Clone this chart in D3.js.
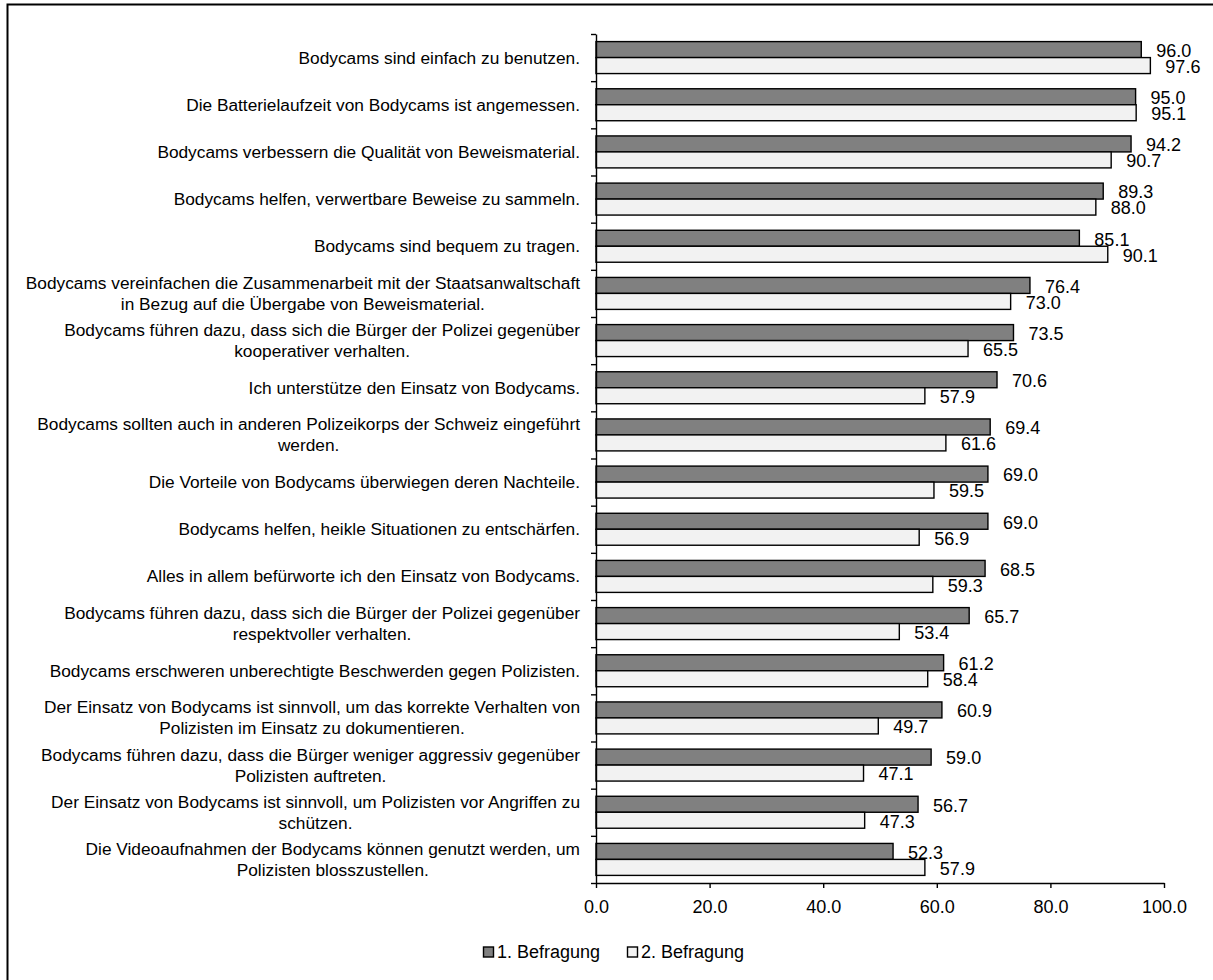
<!DOCTYPE html>
<html>
<head>
<meta charset="utf-8">
<script src="https://cdn.jsdelivr.net/npm/d3@7"></script>
<style>
  html, body { margin: 0; padding: 0; background: #fff; }
  svg { display: block; font-family: "Liberation Sans", Arial, sans-serif; }
</style>
</head>
<body>
<svg id="chart" width="1213" height="980"></svg>
<script>
const categories = [
  ["Bodycams sind einfach zu benutzen."],
  ["Die Batterielaufzeit von Bodycams ist angemessen."],
  ["Bodycams verbessern die Qualität von Beweismaterial."],
  ["Bodycams helfen, verwertbare Beweise zu sammeln."],
  ["Bodycams sind bequem zu tragen."],
  ["Bodycams vereinfachen die Zusammenarbeit mit der Staatsanwaltschaft", "in Bezug auf die Übergabe von Beweismaterial."],
  ["Bodycams führen dazu, dass sich die Bürger der Polizei gegenüber", "kooperativer verhalten."],
  ["Ich unterstütze den Einsatz von Bodycams."],
  ["Bodycams sollten auch in anderen Polizeikorps der Schweiz eingeführt", "werden."],
  ["Die Vorteile von Bodycams überwiegen deren Nachteile."],
  ["Bodycams helfen, heikle Situationen zu entschärfen."],
  ["Alles in allem befürworte ich den Einsatz von Bodycams."],
  ["Bodycams führen dazu, dass sich die Bürger der Polizei gegenüber", "respektvoller verhalten."],
  ["Bodycams erschweren unberechtigte Beschwerden gegen Polizisten."],
  ["Der Einsatz von Bodycams ist sinnvoll, um das korrekte Verhalten von", "Polizisten im Einsatz zu dokumentieren."],
  ["Bodycams führen dazu, dass die Bürger weniger aggressiv gegenüber", "Polizisten auftreten."],
  ["Der Einsatz von Bodycams ist sinnvoll, um Polizisten vor Angriffen zu", "schützen."],
  ["Die Videoaufnahmen der Bodycams können genutzt werden, um", "Polizisten blosszustellen."]
];
const series1 = [96.0, 95.0, 94.2, 89.3, 85.1, 76.4, 73.5, 70.6, 69.4, 69.0, 69.0, 68.5, 65.7, 61.2, 60.9, 59.0, 56.7, 52.3];
const series2 = [97.6, 95.1, 90.7, 88.0, 90.1, 73.0, 65.5, 57.9, 61.6, 59.5, 56.9, 59.3, 53.4, 58.4, 49.7, 47.1, 47.3, 57.9];
const seriesNames = ["1. Befragung", "2. Befragung"];
const seriesColors = ["#808080", "#f2f2f2"];
const xTicks = [0, 20, 40, 60, 80, 100];

const svg = d3.select("#chart");

// outer frame (cropped at right / bottom in the reference)
svg.append("path")
  .attr("d", "M7.5,1200V4.5H1400")
  .attr("fill", "none").attr("stroke", "#000").attr("stroke-width", 2);

const x = d3.scaleLinear().domain([0, 100]).range([596, 1164]);
const idx = d3.range(categories.length);
const y = d3.scaleBand().domain(idx).range([34, 883]).paddingInner(0).paddingOuter(0);
const yInner = d3.scaleBand().domain([0, 1]).range([7.6, y.bandwidth() - 7.6]);
const yTicksScale = d3.scaleLinear().domain([0, categories.length]).range([34, 883]);

const seriesData = [series1, series2];

// bars
seriesData.forEach((vals, s) => {
  svg.append("g").selectAll("rect")
    .data(vals)
    .join("rect")
    .attr("x", x(0))
    .attr("y", (d, i) => y(i) + yInner(s))
    .attr("width", d => x(d) - x(0))
    .attr("height", yInner.bandwidth())
    .attr("fill", seriesColors[s])
    .attr("stroke", "#000")
    .attr("stroke-width", 1.4);
});

// value labels
seriesData.forEach((vals, s) => {
  svg.append("g").selectAll("text")
    .data(vals)
    .join("text")
    .attr("x", d => x(d) + 15)
    .attr("y", (d, i) => y(i) + yInner(s) + yInner.bandwidth() / 2 + 1)
    .attr("dy", "0.35em")
    .attr("font-size", 18)
    .attr("fill", "#000")
    .text(d => d.toFixed(1));
});

// left axis (ticks at category boundaries)
const gy = svg.append("g")
  .attr("transform", `translate(${x(0)},0)`)
  .call(d3.axisLeft(yTicksScale).tickValues(d3.range(categories.length + 1)).tickFormat("").tickSize(5).tickSizeOuter(0));
gy.select(".domain").attr("stroke", "#000").attr("stroke-width", 1.4);
gy.selectAll(".tick line").attr("stroke", "#000").attr("stroke-width", 1.4);

// bottom axis
const gx = svg.append("g")
  .attr("transform", `translate(0,883)`)
  .call(d3.axisBottom(x).tickValues(xTicks).tickFormat(d3.format(".1f")).tickSize(5).tickPadding(12).tickSizeOuter(0));
gx.select(".domain").attr("stroke", "#000").attr("stroke-width", 1.4);
gx.selectAll(".tick line").attr("stroke", "#000").attr("stroke-width", 1.4);
gx.selectAll(".tick text").attr("font-size", 18).attr("fill", "#000")
  .attr("font-family", "Liberation Sans, Arial, sans-serif");

// category labels
const labelRight = 580;
const lineH = 21;
const labelG = svg.append("g").attr("font-size", 17.3).attr("fill", "#000");
categories.forEach((lines, i) => {
  const cy = y(i) + y.bandwidth() / 2;
  const t = labelG.append("text");
  lines.forEach((ln) => { t.append("tspan").text(ln); });
  const widths = [];
  t.selectAll("tspan").each(function () { widths.push(this.getComputedTextLength()); });
  const maxW = d3.max(widths);
  const n = lines.length;
  if (n === 1) {
    t.attr("text-anchor", "end");
    t.selectAll("tspan").attr("x", labelRight).attr("y", cy).attr("dy", "0.35em");
  } else {
    t.attr("text-anchor", "middle");
    t.selectAll("tspan")
      .attr("x", labelRight - maxW / 2)
      .attr("y", (d, k) => cy + (k - (n - 1) / 2) * lineH)
      .attr("dy", "0.35em");
  }
});

// legend
const legendX = [483, 627];
const legendY = 952;
const lg = svg.append("g");
seriesNames.forEach((name, s) => {
  lg.append("rect")
    .attr("x", legendX[s] + 0.5).attr("y", legendY - 5)
    .attr("width", 10).attr("height", 10)
    .attr("fill", seriesColors[s]).attr("stroke", "#000").attr("stroke-width", 1.4);
  lg.append("text")
    .attr("x", legendX[s] + 14).attr("y", legendY)
    .attr("dy", "0.35em").attr("font-size", 18).attr("fill", "#000")
    .text(name);
});
</script>
</body>
</html>
